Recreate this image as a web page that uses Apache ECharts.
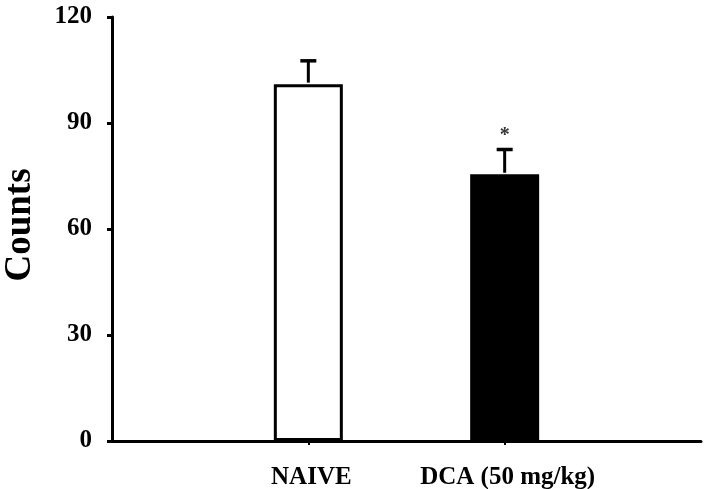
<!DOCTYPE html>
<html>
<head>
<meta charset="utf-8">
<script src="https://cdn.jsdelivr.net/npm/echarts@6/dist/echarts.min.js"></script>
<style>
html,body{margin:0;padding:0;background:#fff;}
#chart{width:704px;height:489px;}
</style>
</head>
<body>
<div id="chart"></div>
<script>
// Data
var categories = ['', 'NAIVE', 'DCA (50 mg/kg)', ''];
var means = [null, 101, 75.5, null];
var sems = [null, 6.6, 7.0, null];
var marks = ['', '', '*', ''];
var yTicks = [0, 30, 60, 90, 120];

var fills = ['#fff', '#fff', '#000', '#fff'];
var FONT = '"Liberation Serif", "Times New Roman", serif';

var barData = means.map(function (v, i) {
  return v == null ? '-' : { value: v, itemStyle: { color: fills[i] } };
});
var errData = means.map(function (v, i) {
  return v == null ? [i, '-', '-'] : [i, v, v + sems[i]];
});

var chart = echarts.init(document.getElementById('chart'), null, { renderer: 'canvas' });
chart.setOption({
  animation: false,
  backgroundColor: '#fff',
  grid: { left: 112, right: 3, top: 17, bottom: 48, containLabel: false, outerBoundsMode: 'none' },
  xAxis: {
    type: 'category',
    data: categories,
    boundaryGap: false,
    axisLine: { lineStyle: { color: '#000', width: 3 } },
    axisTick: {
      length: 4,
      lineStyle: { color: '#000', width: 2 },
      interval: function (idx, val) { return val !== ''; }
    },
    axisLabel: {
      interval: 0,
      margin: 24,
      color: '#000',
      fontFamily: FONT,
      fontWeight: 'bold',
      fontSize: 25,
      padding: [0, 0, 0, 6]
    },
    splitLine: { show: false }
  },
  yAxis: {
    type: 'value',
    min: yTicks[0],
    max: yTicks[yTicks.length - 1],
    interval: 30,
    name: 'Counts',
    nameLocation: 'middle',
    nameRotate: 90,
    nameGap: 73,
    nameTextStyle: { color: '#000', fontFamily: FONT, fontWeight: 'bold', fontSize: 37, padding: [0, 0, 0, 8] },
    axisLine: { show: true, lineStyle: { color: '#000', width: 3 } },
    axisTick: { show: true, length: 5, lineStyle: { color: '#000', width: 3 } },
    axisLabel: { margin: 20, color: '#000', fontFamily: FONT, fontWeight: 'bold', fontSize: 25 },
    splitLine: { show: false }
  },
  series: [
    {
      type: 'bar',
      data: barData,
      barWidth: 69,
      itemStyle: { borderColor: '#000', borderWidth: 3 },
      z: 2
    },
    {
      type: 'custom',
      data: errData,
      z: 3,
      renderItem: function (params, api) {
        var i = api.value(0);
        var lo = api.value(1), hi = api.value(2);
        if (isNaN(lo) || isNaN(hi)) return null;
        var p0 = api.coord([i, lo]);
        var p1 = api.coord([i, hi]);
        var half = 8;
        var children = [
          { type: 'line', shape: { x1: p0[0], y1: p0[1] - 1.5, x2: p1[0], y2: p1[1] }, style: { stroke: '#000', lineWidth: 3 } },
          { type: 'line', shape: { x1: p1[0] - half, y1: p1[1], x2: p1[0] + half, y2: p1[1] }, style: { stroke: '#000', lineWidth: 3.5 } }
        ];
        var m = marks[params.dataIndex];
        if (m) {
          children.push({
            type: 'text',
            style: {
              text: m, x: p1[0], y: p1[1] - 4,
              align: 'center', verticalAlign: 'bottom',
              font: 'bold 20px ' + FONT, fill: '#333'
            }
          });
        }
        return { type: 'group', children: children };
      }
    }
  ]
});
</script>
</body>
</html>
